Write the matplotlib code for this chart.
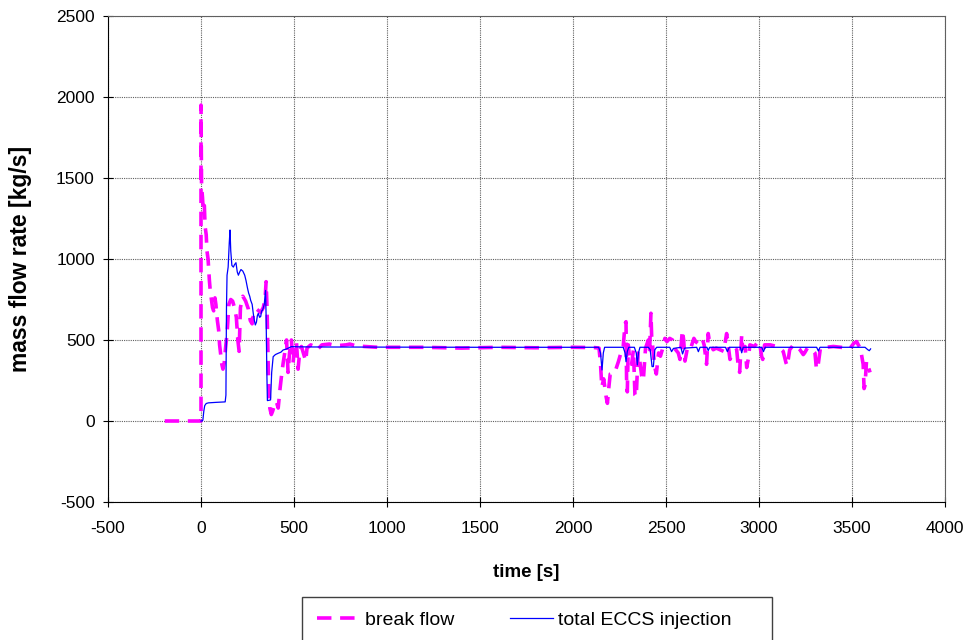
import matplotlib
matplotlib.use("Agg")
import matplotlib.pyplot as plt
from matplotlib.patches import Rectangle

plt.rcParams['font.family'] = ['Liberation Sans', 'DejaVu Sans']
plt.rcParams['axes.unicode_minus'] = False

# break flow (dashed magenta)
break_t = [-195, -5, 0, 0, 3, 8, 12, 18, 22, 28, 32, 38, 45, 50, 55, 62, 68, 75, 80, 88,
           95, 100, 105, 112, 118, 125, 132, 140, 150, 160, 170, 180, 190, 198, 205, 212,
           225, 240, 255, 265, 275, 285, 300, 320, 335, 345, 350, 355, 362, 370, 378, 385,
           395, 405, 415, 425, 435, 442, 450, 460, 468, 476, 486, 495, 505, 513, 522, 530,
           540, 550, 563, 570, 590, 610, 625, 650, 690, 730, 780, 800, 830, 880, 950, 1000,
           1200, 1400, 1600, 1800, 2000, 2118,
           2140, 2148, 2155, 2165, 2178, 2185, 2192, 2200, 2225, 2244, 2260, 2270, 2280,
           2285, 2288, 2292, 2297, 2305, 2315, 2325, 2333, 2340, 2350, 2358, 2369, 2378,
           2390, 2405, 2412, 2419, 2423, 2430, 2440, 2448, 2460, 2470, 2480, 2494, 2505,
           2520, 2535, 2545, 2566, 2575, 2588, 2595, 2602, 2615, 2630, 2650, 2660, 2680,
           2697, 2705, 2718, 2727, 2735, 2754, 2770, 2790, 2810, 2826, 2833, 2844, 2860,
           2880, 2889, 2896, 2907, 2912, 2925, 2934, 2942, 2951, 2975, 2996, 3005, 3014,
           3020, 3030, 3060, 3095, 3110, 3130, 3145, 3152, 3165, 3185, 3200, 3220, 3238,
           3245, 3260, 3285, 3301, 3308, 3315, 3330, 3360, 3400, 3440, 3471, 3490, 3510,
           3525, 3534, 3545, 3560, 3565, 3570, 3578, 3585, 3593, 3597]
break_m = [0, 0, 0, 1950, 1450, 1380, 1300, 1330, 1200, 1150, 1050, 1000, 870, 800, 760,
           700, 680, 760, 720, 620, 560, 470, 420, 350, 320, 360, 450, 540, 720, 750, 740,
           700, 640, 500, 430, 700, 770, 740, 690, 620, 600, 680, 690, 670, 700, 760, 860,
           700, 300, 80, 40, 60, 100, 120, 80, 200, 300, 360, 420, 500, 300, 420, 500, 360,
           480, 490, 320, 420, 460, 420, 370, 450, 470, 460, 440, 470, 475, 465, 470, 475,
           465, 460, 455, 455, 455, 450, 455, 452, 455, 453,
           450, 350, 210, 260, 150, 109, 200, 290, 300, 366, 430, 460, 600,
           613, 260, 180, 470, 380, 350, 440, 160, 150, 420, 380, 280, 250,
           450, 500, 440, 665, 520, 440, 330, 290, 420, 400, 440, 510, 490,
           510, 500, 450, 420, 380, 560, 500, 370, 450, 440, 510, 490, 470,
           500, 470, 350, 540, 480, 440, 450, 440, 430, 540, 480, 380, 420,
           440, 330, 300, 530, 450, 460, 330, 380, 470, 460, 490, 470, 400,
           380, 470, 470, 460, 450, 430, 360, 340, 440, 470, 460, 440, 410,
           420, 450, 440, 420, 330, 320, 450, 455, 460, 455, 450, 450, 480,
           490, 470, 450, 350, 200, 220, 370, 340, 315, 300]

# total ECCS injection (solid blue)
eccs_t = [0, 5, 10, 15, 20, 28, 40, 80, 130, 134, 137, 140, 146, 152, 156, 160, 166, 174,
          180, 188, 195, 201, 208, 215, 225, 235, 242, 250, 256, 262, 267, 275, 281, 287,
          292, 298, 303, 308, 315, 321, 326, 331, 340, 347, 350, 354, 357, 366, 374, 380,
          388, 400, 415, 430, 441, 460, 486, 520, 600, 1000, 1500, 2000, 2138, 2148, 2156,
          2163, 2170, 2270, 2280, 2285, 2292, 2300, 2330, 2340, 2346, 2352, 2360, 2405,
          2415, 2425, 2432, 2440, 2450, 2520, 2530, 2540, 2580, 2589, 2600, 2665, 2674,
          2683, 2720, 2727, 2735, 2820, 2830, 2840, 2900, 2907, 2915, 3015, 3024, 3033,
          3310, 3319, 3328, 3570, 3585, 3593, 3600]
eccs_m = [0, 0, 5, 60, 95, 108, 112, 115, 118, 160, 700, 900, 950, 1100, 1179, 1050, 960,
          950, 965, 977, 920, 900, 920, 935, 925, 900, 867, 820, 790, 770, 745, 720, 664,
          620, 593, 610, 650, 664, 640, 645, 680, 683, 720, 806, 650, 300, 126, 128, 130,
          300, 397, 410, 418, 425, 438, 445, 459, 458, 457, 456, 455, 455, 455, 420, 315,
          420, 455, 455, 420, 366, 430, 455, 455, 420, 346, 420, 455, 455,
          440, 336, 336, 440, 455, 455, 428, 448, 455, 414, 450, 455, 428,
          455, 455, 435, 455, 455, 428, 455, 455, 421, 455, 455, 428, 455,
          455, 432, 455, 455, 440, 434, 445]

fig = plt.figure(figsize=(9.64, 6.4), dpi=100)
ax = fig.add_axes([108/964, 1-502/640, 837/964, 486/640])

ax.plot(break_t, break_m, color='#FF00FF', lw=2.6, dashes=(4, 2.4), label='break flow')
ax.plot(eccs_t, eccs_m, color='#0000FF', lw=0.9, label='total ECCS injection')

ax.set_xlim(-500, 4000)
ax.set_ylim(-500, 2500)
ax.set_xticks(range(-500, 4001, 500))
ax.set_yticks(range(-500, 2501, 500))
ax.grid(True, color='#606060', linestyle=(0, (1, 1)), linewidth=0.8)
ax.tick_params(direction='inout', length=7, width=0.8, labelsize=12.5)
ax.tick_params(axis='x', pad=10.5)
ax.tick_params(axis='y', pad=6)
for s in ['top', 'right']:
    ax.spines[s].set_color('#606060')
    ax.spines[s].set_linewidth(0.8)
ax.set_xlabel('time [s]', fontsize=13.5, fontweight='bold', labelpad=20)
ax.set_ylabel('mass flow rate [kg/s]', fontsize=16.5, fontweight='bold', labelpad=17)

leg = fig.legend(loc='center left', bbox_to_anchor=(307/964, 1-620/640), ncol=2,
                 frameon=False, fontsize=14, handlelength=2.2, handletextpad=0.26,
                 columnspacing=2.9, borderpad=0)
fig.patches.append(Rectangle((302/964, -0.01), 470/964, 1-597/640+0.01,
                             transform=fig.transFigure, fill=False,
                             edgecolor='#404040', linewidth=1))

fig.savefig('out.png', dpi=100)
